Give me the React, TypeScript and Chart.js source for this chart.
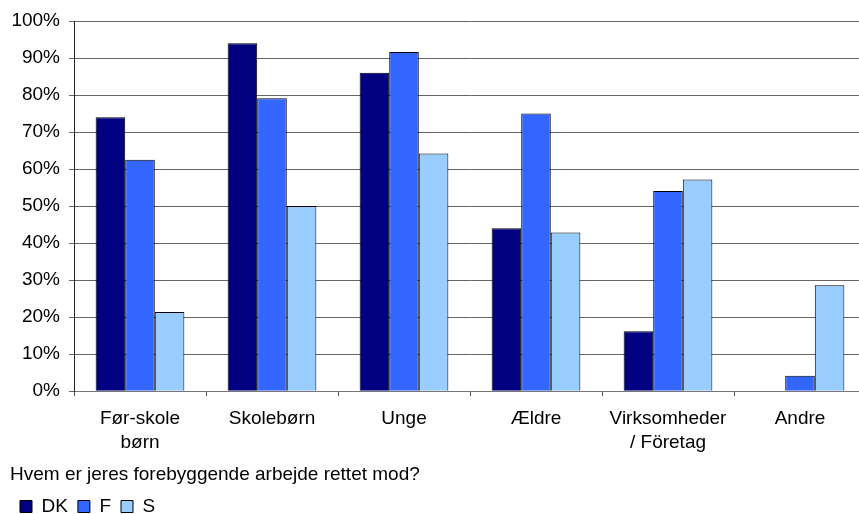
import React, { useEffect, useRef } from 'react';
import { Chart, registerables } from 'chart.js';

Chart.register(...registerables);

const categories: (string | string[])[] = [
  ['Før-skole', 'børn'],
  'Skolebørn',
  'Unge',
  'Ældre',
  ['Virksomheder', '/ Företag'],
  'Andre',
];
const seriesNames = ['DK', 'F', 'S'];
const dkValues = [74, 94, 86, 44, 16.2, null];
const fValues = [62.5, 79.1, 91.6, 75, 54.1, 4.2];
const sValues = [21.4, 50, 64.2, 42.9, 57.2, 28.6];
const seriesColors = ['#000080', '#3366FF', '#99CCFF'];
const titleText = 'Hvem er jeres forebyggende arbejde rettet mod?';

const FONT = { family: '"Liberation Sans", Arial, sans-serif', size: 19, lineHeight: 1.25 };

export default function App() {
  const ref = useRef<HTMLCanvasElement>(null);
  useEffect(() => {
    const values = [dkValues, fValues, sValues];
    const chart = new Chart(ref.current!, {
      type: 'bar',
      data: {
        labels: categories,
        datasets: seriesNames.map((name, i) => ({
          label: name,
          data: values[i],
          backgroundColor: seriesColors[i],
          borderColor: '#000000',
          borderWidth: 1,
          categoryPercentage: 0.672,
          barPercentage: 1,
        })),
      },
      options: {
        responsive: false,
        animation: false,
        devicePixelRatio: 1,
        layout: { padding: { left: 10, top: 21, right: 0, bottom: 0 } },
        scales: {
          x: {
            grid: { display: true, drawOnChartArea: false, drawTicks: true, tickLength: 5, color: '#555555' },
            border: { color: '#777777' },
            ticks: { padding: 11, font: FONT, color: '#000', maxRotation: 0, autoSkip: false },
            afterFit: (s: any) => { s.height = 63; },
          },
          y: {
            min: 0,
            max: 100,
            ticks: { stepSize: 10, callback: (v: any) => v + '%', padding: 9, font: FONT, color: '#000' },
            grid: { color: '#666666', tickLength: 5 },
            border: { color: '#222222' },
            afterFit: (s: any) => { s.width = 64; },
          },
        },
        plugins: {
          legend: {
            position: 'bottom',
            align: 'start',
            weight: 1000,
            labels: { boxWidth: 12, boxHeight: 12, font: FONT, color: '#000', padding: 10 },
          },
          title: {
            display: true,
            text: titleText,
            position: 'bottom',
            align: 'start',
            weight: 500,
            font: { family: FONT.family, size: 19, weight: 'normal', lineHeight: 1.2 },
            color: '#000',
            padding: { top: 9, bottom: 1 },
          },
          tooltip: { enabled: false },
        },
      } as any,
    });
    return () => chart.destroy();
  }, []);
  return (
    <div style={{ position: 'fixed', left: 0, top: 0, width: 859, height: 514, overflow: 'hidden', background: '#fff' }}>
      <canvas ref={ref} width={866} height={526} style={{ display: 'block' }} />
    </div>
  );
}
